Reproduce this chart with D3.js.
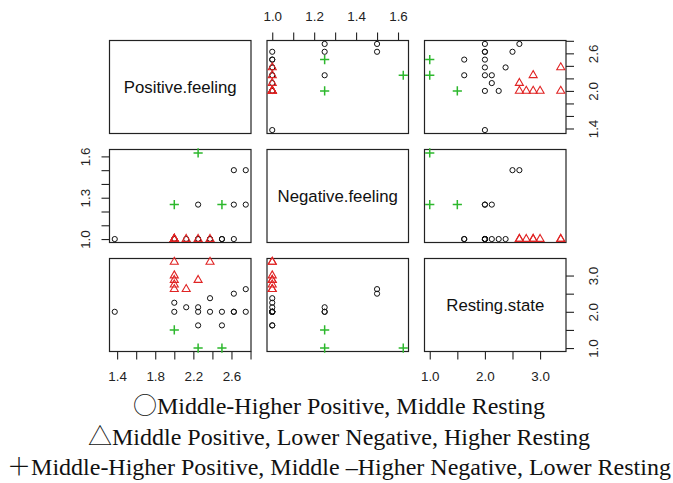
<!DOCTYPE html>
<html>
<head>
<meta charset="utf-8">
<script src="https://cdn.jsdelivr.net/npm/d3@7"></script>
<style>
  body { margin: 0; background: #fff; }
  svg { display: block; }
</style>
</head>
<body>
<svg id="chart"></svg>
<script>
// variables of the scatterplot matrix
const variables = ["Positive.feeling", "Negative.feeling", "Resting.state"];

// one entry per respondent: group 0 = circle, 1 = triangle, 2 = plus
const positive = [1.375, 2.0, 2.0, 2.125, 2.25, 2.25, 2.25, 2.375, 2.375, 2.5, 2.5, 2.625, 2.625, 2.625, 2.75, 2.75,
                  2.125, 2.0, 2.0, 2.25, 2.0, 2.0, 2.375, 2.0,
                  2.5, 2.0, 2.25];
const negative = [1.0, 1.0, 1.0, 1.0, 1.0, 1.0, 1.25, 1.0, 1.0, 1.0, 1.0, 1.0, 1.25, 1.5, 1.25, 1.5,
                  1.0, 1.0, 1.0, 1.0, 1.0, 1.0, 1.0, 1.0,
                  1.25, 1.25, 1.625];
const resting = [2.0, 2.0, 2.25, 2.125, 1.625, 2.0, 2.125, 2.0, 2.375, 2.0, 1.625, 2.0, 2.0, 2.5, 2.0, 2.625,
                 2.625, 2.625, 2.75, 2.875, 2.875, 3.0, 3.375, 3.375,
                 1.0, 1.5, 1.0];
const group = [0, 0, 0, 0, 0, 0, 0, 0, 0, 0, 0, 0, 0, 0, 0, 0,
               1, 1, 1, 1, 1, 1, 1, 1,
               2, 2, 2];

// axis ticks and the ticks that carry a label
const positiveTicks = [1.4, 1.6, 1.8, 2.0, 2.2, 2.4, 2.6, 2.8];
const positiveLabelsH = [1.4, 1.8, 2.2, 2.6];
const positiveLabelsV = [1.4, 2.0, 2.6];
const negativeTicks = [1.0, 1.1, 1.2, 1.3, 1.4, 1.5, 1.6];
const negativeLabelsH = [1.0, 1.2, 1.4, 1.6];
const negativeLabelsV = [1.0, 1.3, 1.6];
const restingTicks = [1.0, 1.5, 2.0, 2.5, 3.0];
const restingLabels = [1.0, 2.0, 3.0];

const legendSymbols = ["\u25CB", "\u25B3", "\uFF0B"];
const legendLines = [
  "Middle-Higher Positive, Middle Resting",
  "Middle Positive, Lower Negative, Higher Resting",
  "Middle-Higher Positive, Middle \u2013Higher Negative, Lower Resting"
];

const width = 673;
const height = 483;
const svg = d3.select("#chart").attr("width", width).attr("height", height);

const panelW = 141.5, panelH = 93, gapX = 16, gapY = 16;
const left0 = 109.5, top0 = 40.5;
const colX = i => left0 + i * (panelW + gapX);
const rowY = i => top0 + i * (panelH + gapY);

const columns = [positive, negative, resting];
const colors = ["#111", "#e02424", "#2db82d"];
const tickLen = 8;
const tickFont = "'Liberation Sans', Arial, sans-serif";

// padded domain like R's pairs (4% each side)
const domains = columns.map(v => {
  const [a, b] = d3.extent(v);
  const p = (b - a) * 0.04;
  return [a - p, b + p];
});
const xScales = domains.map((d, j) => d3.scaleLinear().domain(d).range([colX(j), colX(j) + panelW]));
const yScales = domains.map((d, i) => d3.scaleLinear().domain(d).range([rowY(i) + panelH, rowY(i)]));

const rows = positive.map((p, k) => ({ vals: [p, negative[k], resting[k]], g: group[k] }));

const triangle = d3.symbol().type(d3.symbolTriangle).size(28);

for (let i = 0; i < 3; i++) {
  for (let j = 0; j < 3; j++) {
    const cell = svg.append("g");
    cell.append("rect")
      .attr("x", colX(j)).attr("y", rowY(i))
      .attr("width", panelW).attr("height", panelH)
      .attr("fill", "none").attr("stroke", "#222").attr("stroke-width", 1.2);

    if (i === j) {
      cell.append("text")
        .attr("x", colX(j) + panelW / 2)
        .attr("y", rowY(i) + panelH / 2 + 6)
        .attr("text-anchor", "middle")
        .attr("font-family", tickFont)
        .attr("font-size", "16.8px")
        .attr("fill", "#111")
        .text(variables[i]);
      continue;
    }

    const xs = xScales[j], ys = yScales[i];
    const pts = cell.selectAll(".pt")
      .data(rows)
      .enter()
      .append("g")
      .attr("transform", d => `translate(${xs(d.vals[j])},${ys(d.vals[i])})`);

    pts.filter(d => d.g === 0).append("circle")
      .attr("r", 2.6).attr("fill", "none")
      .attr("stroke", colors[0]).attr("stroke-width", 1);
    pts.filter(d => d.g === 1).append("path")
      .attr("d", triangle).attr("fill", "none")
      .attr("stroke", colors[1]).attr("stroke-width", 1.1);
    pts.filter(d => d.g === 2).append("path")
      .attr("d", "M-4.6,0H4.6M0,-4.6V4.6").attr("fill", "none")
      .attr("stroke", colors[2]).attr("stroke-width", 1.5);
  }
}

// axis helper
function styleAxis(sel) {
  sel.select(".domain").remove();
  sel.selectAll(".tick line").attr("stroke", "#222").attr("stroke-width", 1.1);
  sel.selectAll("text")
    .attr("font-family", tickFont)
    .attr("font-size", "13.4px")
    .attr("fill", "#222");
}
function fmt(labels) {
  return v => labels.some(l => Math.abs(l - v) < 1e-9) ? d3.format(".1f")(v) : "";
}

const axisSpec = [
  // Negative on top of column 2
  { axis: d3.axisTop(xScales[1]).tickValues(negativeTicks).tickFormat(fmt(negativeLabelsH)), t: `translate(0,${rowY(0)})` },
  // Positive and Resting at the bottom of columns 1 and 3
  { axis: d3.axisBottom(xScales[0]).tickValues(positiveTicks).tickFormat(fmt(positiveLabelsH)), t: `translate(0,${rowY(2) + panelH})` },
  { axis: d3.axisBottom(xScales[2]).tickValues(restingTicks).tickFormat(fmt(restingLabels)), t: `translate(0,${rowY(2) + panelH})` }
];
axisSpec.forEach(a => {
  svg.append("g").attr("transform", a.t)
    .call(a.axis.tickSize(tickLen).tickPadding(12))
    .call(styleAxis);
});

// vertical axes, labels parallel to the axis
const vAxes = [
  { axis: d3.axisLeft(yScales[1]).tickValues(negativeTicks).tickFormat(fmt(negativeLabelsV)), x: colX(0), off: -20 },
  { axis: d3.axisRight(yScales[0]).tickValues(positiveTicks.filter(v => v <= domains[0][1])).tickFormat(fmt(positiveLabelsV)), x: colX(2) + panelW, off: 32 },
  { axis: d3.axisRight(yScales[2]).tickValues(restingTicks).tickFormat(fmt(restingLabels)), x: colX(2) + panelW, off: 32 }
];
vAxes.forEach(a => {
  const g = svg.append("g").attr("transform", `translate(${a.x},0)`)
    .call(a.axis.tickSize(tickLen))
    .call(styleAxis);
  g.selectAll(".tick text")
    .attr("x", null).attr("dy", null)
    .attr("text-anchor", "middle")
    .attr("transform", `translate(${a.off},0) rotate(-90)`);
});

// legend: CJK symbol followed by serif text
const legend = svg.append("g").selectAll("text")
  .data(legendLines)
  .enter()
  .append("text")
  .attr("x", 339)
  .attr("y", (d, i) => 414 + i * 30.7)
  .attr("text-anchor", "middle")
  .attr("font-family", "'Liberation Serif', 'Times New Roman', serif")
  .attr("font-size", "24px")
  .attr("fill", "#111");
legend.append("tspan")
  .attr("font-family", "'Noto Sans CJK SC', sans-serif")
  .attr("font-weight", 300)
  .text((d, i) => legendSymbols[i]);
legend.append("tspan")
  .text(d => d);
</script>
</body>
</html>
